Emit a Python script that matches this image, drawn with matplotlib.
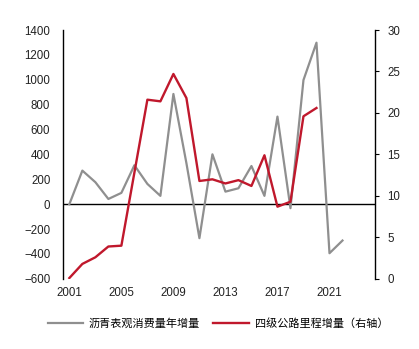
import matplotlib
matplotlib.use("Agg")
import matplotlib.pyplot as plt

plt.rcParams['font.family'] = ['Liberation Sans', 'Noto Sans CJK SC', 'DejaVu Sans']

# data
years_asphalt = list(range(2001, 2023))
asphalt_growth = [0, 270, 177, 42, 91, 313, 163, 67, 886, 330, -273, 401,
                  101, 128, 307, 67, 704, -32, 998, 1298, -394, -292]

years_road = list(range(2001, 2021))
road_growth = [0.1, 1.8, 2.6, 3.9, 4.0, 12.8, 21.6, 21.4, 24.7, 21.8,
               11.8, 12.0, 11.5, 11.9, 11.2, 14.9, 8.7, 9.3, 19.6, 20.6]

xticks = [2001, 2005, 2009, 2013, 2017, 2021]
label_gray = "沥青表观消费量年增量"
label_red = "四级公路里程增量（右轴）"

fig = plt.figure(figsize=(4.19, 3.49), dpi=100)
ax = fig.add_axes([0.150, 0.201, 0.745, 0.713])
ax2 = ax.twinx()

l1, = ax.plot(years_asphalt, asphalt_growth, color='#8f8f8f', lw=1.6)
l2, = ax2.plot(years_road, road_growth, color='#c0182c', lw=1.7)
ax.axhline(0, color='black', lw=1.0, zorder=0)

ax.set_xlim(2000.5, 2024.5)
ax.set_ylim(-600, 1400)
ax.set_yticks(range(-600, 1401, 200))
ax2.set_ylim(0, 30)
ax2.set_yticks(range(0, 31, 5))
ax.set_xticks(xticks)

for a in (ax, ax2):
    a.spines['top'].set_visible(False)
    a.spines['bottom'].set_visible(False)
ax.spines['right'].set_visible(False)
ax2.spines['left'].set_visible(False)
ax.spines['left'].set_linewidth(1.0)
ax2.spines['right'].set_linewidth(1.0)

ax.tick_params(axis='y', length=0, labelsize=8.3, pad=9, labelcolor='#222222')
ax.tick_params(axis='x', length=0, labelsize=8.3, pad=6, labelcolor='#222222')
ax2.tick_params(axis='y', length=3, labelsize=8.3, pad=6, labelcolor='#222222')

fig.legend([l1, l2], [label_gray, label_red], loc='center', ncol=2,
           bbox_to_anchor=(0.52, 0.072), frameon=False, fontsize=8,
           handlelength=3.2, columnspacing=1.2, handletextpad=0.5)

fig.savefig("out.png", dpi=100)
